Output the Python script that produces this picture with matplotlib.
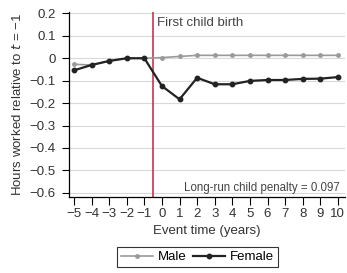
import numpy as np
from matplotlib import pyplot as plt

plt.rcParams['font.family'] = ['Liberation Sans', 'DejaVu Sans']
plt.rcParams['font.size'] = 9.5
plt.rcParams['axes.unicode_minus'] = True

# Data
event_time = list(range(-5, 11))
male = [-0.027, -0.03, -0.012, 0.0, 0.0, 0.003, 0.008, 0.013, 0.013, 0.013,
        0.013, 0.013, 0.013, 0.013, 0.013, 0.013]
female = [-0.054, -0.03, -0.012, 0.0, 0.0, -0.124, -0.183, -0.087, -0.116, -0.116,
          -0.101, -0.097, -0.097, -0.092, -0.091, -0.084]
yticks = [0.2, 0.1, 0, -0.1, -0.2, -0.3, -0.4, -0.5, -0.6]
penalty = 0.097

fig = plt.figure(figsize=(3.47, 2.73), dpi=100)
ax = fig.add_axes([0.199, 0.279, 0.795, 0.676])

for y in yticks:
    ax.axhline(y, color='#d9d9d9', lw=0.8, zorder=0)

ax.axvline(-0.5, color='#c8334f', lw=1.2, zorder=1)

ax.plot(event_time, male, color='#9a9a9a', lw=1.2, marker='o', ms=2.5, label='Male', zorder=2)
ax.plot(event_time, female, color='#222222', lw=1.6, marker='o', ms=3.2, label='Female', zorder=3)

ax.text(-0.3, 0.155, 'First child birth', fontsize=9.5, color='#444444', va='center', ha='left')
ax.text(10.1, -0.58, 'Long-run child penalty = {:.3f}'.format(penalty),
        fontsize=8.3, color='#444444', va='center', ha='right')

ax.set_xlim(-5.28, 10.4)
ax.set_ylim(-0.618, 0.205)
ax.set_xticks(event_time)
ax.set_xticklabels(['{}'.format(t).replace('-', '\u2212') for t in event_time])
ax.set_yticks(yticks)
ax.set_yticklabels(['0' if y == 0 else '{:.1f}'.format(y).replace('-', '\u2212') for y in yticks])
ax.tick_params(axis='both', direction='out', width=0.8, labelsize=9.5, labelcolor='#333333')
ax.tick_params(axis='x', length=5.5, pad=2.5)
ax.tick_params(axis='y', length=5, pad=4.5)

for s in ['top', 'right']:
    ax.spines[s].set_visible(False)
ax.spines['left'].set_linewidth(0.9)
ax.spines['bottom'].set_linewidth(0.9)

ax.set_xlabel('Event time (years)', fontsize=9.5, labelpad=3.5, color='#333333')
ax.set_ylabel('Hours worked relative to $t$ = \u22121', fontsize=9.5, labelpad=4, color='#333333')

leg = fig.legend(loc='upper center', bbox_to_anchor=(0.57, 0.095), ncol=2, frameon=True,
                 fontsize=9.5, handlelength=2.4, columnspacing=0.5, handletextpad=0.4,
                 borderpad=0.3, borderaxespad=0, fancybox=False, edgecolor='black')
leg.get_frame().set_linewidth(0.8)

fig.savefig('out.png', dpi=100)
